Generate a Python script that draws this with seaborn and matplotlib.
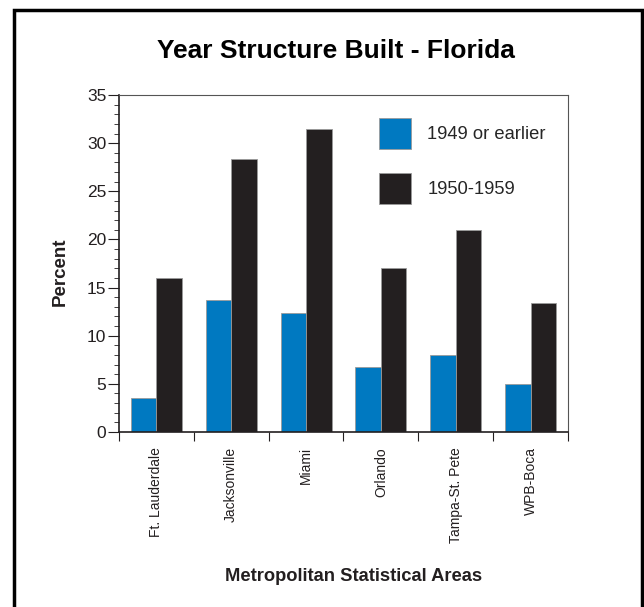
import matplotlib
matplotlib.use('Agg')
import matplotlib.pyplot as plt
import matplotlib.patches as mpatches
from matplotlib.ticker import MultipleLocator, FixedLocator
import seaborn as sns
import pandas as pd

areas = ['Ft. Lauderdale', 'Jacksonville', 'Miami', 'Orlando', 'Tampa-St. Pete', 'WPB-Boca']
pre_1950 = [3.5, 13.7, 12.4, 6.8, 8.0, 5.0]
y1950s = [16.0, 28.4, 31.5, 17.0, 21.0, 13.4]
series = ['1949 or earlier', '1950-1959']

df = pd.DataFrame({
    'area': areas * 2,
    'percent': pre_1950 + y1950s,
    'period': [series[0]] * len(areas) + [series[1]] * len(areas),
})

sns.set_style('white')
plt.rcParams['font.family'] = ['Liberation Sans', 'DejaVu Sans']

fig = plt.figure(figsize=(6.44, 6.07), dpi=100)
ax = fig.add_axes([119 / 644, 1 - 432 / 607, 449 / 644, 337 / 607])

sns.barplot(data=df, x='area', y='percent', hue='period', order=areas, hue_order=series,
            palette=['#0079C1', '#231F20'], width=0.68, saturation=1,
            edgecolor='#9a9a9a', linewidth=0.6, ax=ax)

ax.set_xlim(-0.5, len(areas) - 0.5)
ax.set_ylim(0, 35)

# y ticks: major every 5, minor every 1, pointing out
ax.yaxis.set_major_locator(MultipleLocator(5))
ax.yaxis.set_minor_locator(MultipleLocator(1))
ax.tick_params(axis='y', which='major', left=True, direction='out', length=8, width=0.8,
               labelsize=12.5, colors='#231F20', pad=1)
ax.tick_params(axis='y', which='minor', left=True, direction='out', length=3.5, width=0.6,
               colors='#231F20')

# x ticks: labels at centers, marks at category boundaries
ax.xaxis.set_minor_locator(FixedLocator([i - 0.5 for i in range(len(areas) + 1)]))
ax.tick_params(axis='x', which='major', bottom=True, length=0, labelsize=10, labelrotation=90,
               pad=11, colors='#231F20')
ax.tick_params(axis='x', which='minor', bottom=True, direction='out', length=6.5, width=0.8,
               colors='#231F20')
for lab in ax.get_xticklabels():
    lab.set_va('top')

for side in ['left', 'bottom']:
    ax.spines[side].set_color('#231F20')
    ax.spines[side].set_linewidth(1.2)
for side in ['top', 'right']:
    ax.spines[side].set_color('#555555')
    ax.spines[side].set_linewidth(0.8)

ax.set_xlabel('Metropolitan Statistical Areas', fontsize=13.2, fontweight='bold',
              color='#231F20')
ax.xaxis.set_label_coords(0.523, -0.405)
ax.set_ylabel('Percent', fontsize=13.5, fontweight='bold', color='#231F20')
ax.yaxis.set_label_coords(-0.113, 0.476)
ax.set_title('Year Structure Built - Florida', fontsize=19, fontweight='bold',
             color='black', x=0.484, pad=27)

ax.legend(loc='upper left', bbox_to_anchor=(0.5595, 0.96), frameon=False, fontsize=13.2,
          handlelength=1.75, handleheight=2.24, labelspacing=1.31, handletextpad=0.87,
          borderpad=0)

# outer frame around the figure
fig.patches.append(mpatches.Rectangle((14 / 644, -0.05), 628 / 644, 1.05 - 10 / 607,
                                      transform=fig.transFigure, fill=False,
                                      edgecolor='black', linewidth=2.5))

fig.savefig('out.png', dpi=100)
